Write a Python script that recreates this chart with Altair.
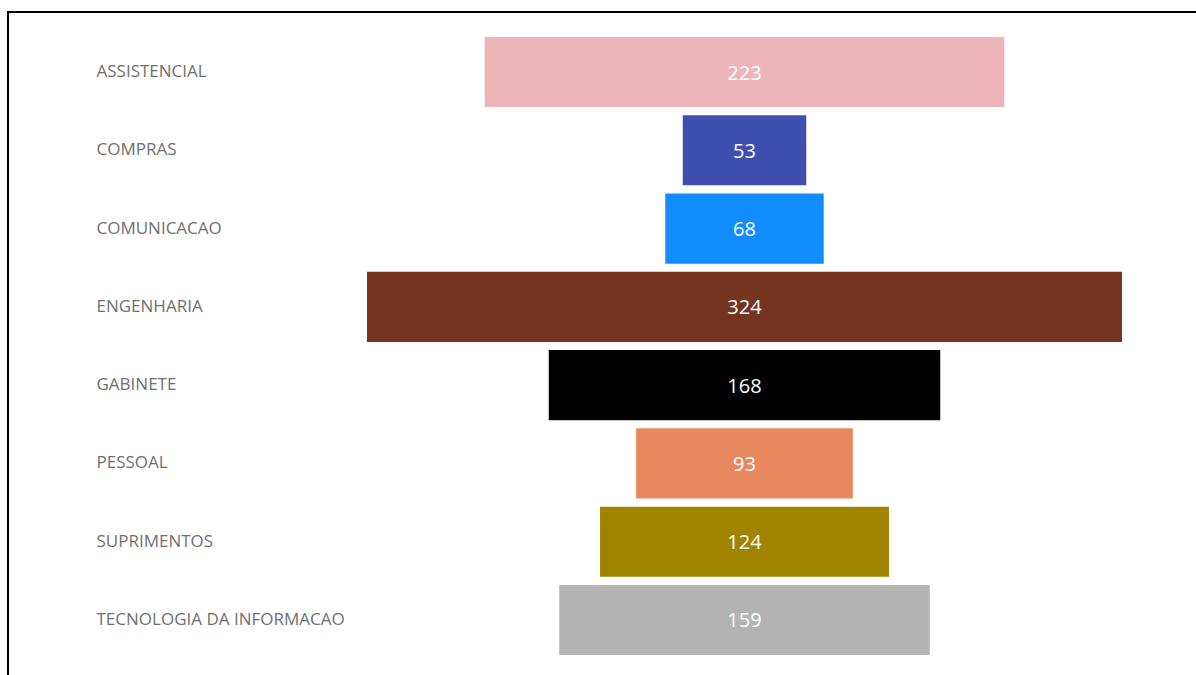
import altair as alt
import pandas as pd

categories = ["ASSISTENCIAL", "COMPRAS", "COMUNICACAO", "ENGENHARIA",
              "GABINETE", "PESSOAL", "SUPRIMENTOS", "TECNOLOGIA DA INFORMACAO"]
values = [223, 53, 68, 324, 168, 93, 124, 159]
colors = ["#EEB5B8", "#3F4FAF", "#118DFF", "#74341F",
          "#000000", "#E8885F", "#A08400", "#B3B3B3"]

df = pd.DataFrame({"cat": categories, "value": values})
df["lo"] = -df["value"] / 2
df["hi"] = df["value"] / 2

L, T = 367, 33
W, H = 755, 626
D = 162

y = alt.Y("cat:N", sort=categories, title=None,
          scale=alt.Scale(paddingInner=0.105, paddingOuter=0.052),
          axis=alt.Axis(domain=False, ticks=False, labelAlign="left",
                        labelPadding=L - 96, labelFont="Open Sans",
                        labelFontSize=17, labelColor="#707070",
                        labelFontWeight=400, labelLimit=400))
x = alt.X("lo:Q", scale=alt.Scale(domain=[-D, D], nice=False, zero=False),
          axis=None)

bars = alt.Chart(df).mark_bar().encode(
    y=y, x=x, x2="hi:Q",
    color=alt.Color("cat:N", scale=alt.Scale(domain=categories, range=colors),
                    legend=None),
)
text = alt.Chart(df).mark_text(font="Open Sans", fontSize=20, color="white",
                               baseline="middle", align="center", dy=1.5).encode(
    y=alt.Y("cat:N", sort=categories),
    x=alt.datum(0),
    text="value:Q",
)

frame_left = alt.Chart(df).mark_rule(color="black", strokeWidth=2).encode(
    x=alt.value(8 - L), y=alt.value(11 - T), y2=alt.value(700))
frame_top = alt.Chart(df).mark_rule(color="black", strokeWidth=2).encode(
    y=alt.value(12 - T), x=alt.value(7 - L), x2=alt.value(1300 - L))

chart = alt.layer(bars, text, frame_left, frame_top).properties(
    width=W, height=H,
    autosize=alt.AutoSizeParams(type="none"),
    padding={"left": L, "top": T, "right": 1196 - L - W, "bottom": 675 - T - H},
).configure_view(stroke=None)

chart.save("out.html", embed_options={"renderer": "svg", "actions": False})
